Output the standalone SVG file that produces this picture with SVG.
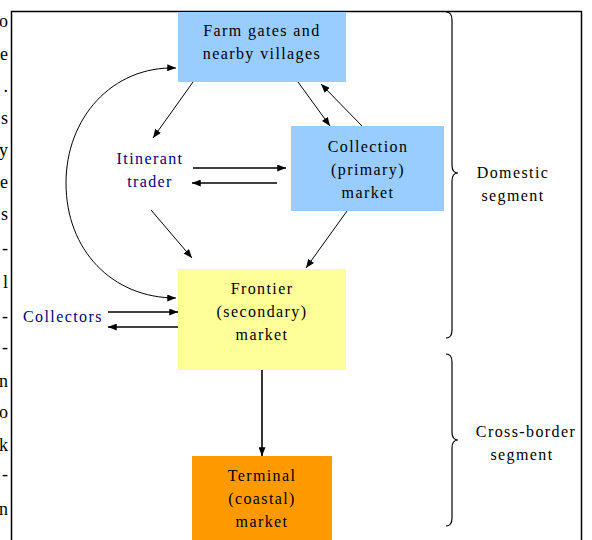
<svg xmlns="http://www.w3.org/2000/svg" width="592" height="540" viewBox="0 0 592 540">
<style>
text{font-size:16px;letter-spacing:1.4px}
.lbl{text-anchor:middle;fill:#000}
.nv{fill:#000080}
.frag{font-size:18px;text-anchor:end;letter-spacing:0}
.ln{stroke:#000;fill:none;stroke-width:1}
.thk{stroke-width:1.6}
.br{stroke:#000;fill:none;stroke-width:1.2}
</style>
<defs>
<marker id="ah" viewBox="0 0 10 8" refX="10" refY="4" markerWidth="9" markerHeight="7" orient="auto-start-reverse" markerUnits="userSpaceOnUse">
<path d="M0,0 L10,4 L0,8 z" fill="#000"/>
</marker>
</defs>
<rect x="0" y="0" width="592" height="540" fill="#fff"/>
<g font-family="'Liberation Serif', 'Times New Roman', serif">
<g id="page-fragments">
<text class="frag" x="8" y="27">o</text>
<text class="frag" x="8" y="60">e</text>
<text class="frag" x="8" y="92">.</text>
<text class="frag" x="8" y="124">s</text>
<text class="frag" x="8" y="156">y</text>
<text class="frag" x="8" y="188">e</text>
<text class="frag" x="8" y="220">s</text>
<text class="frag" x="8" y="254">-</text>
<text class="frag" x="8" y="288">l</text>
<text class="frag" x="8" y="322">-</text>
<text class="frag" x="8" y="353">-</text>
<text class="frag" x="8" y="387">n</text>
<text class="frag" x="8" y="418">o</text>
<text class="frag" x="8" y="451">k</text>
<text class="frag" x="8" y="480">-</text>
<text class="frag" x="8" y="515">n</text>
</g>
<rect id="frame" x="11.5" y="11.5" width="570" height="540" fill="none" stroke="#000" stroke-width="1.5"/>
<g id="connectors">
<line class="ln" x1="193" y1="82" x2="153" y2="138" marker-end="url(#ah)"/>
<line class="ln" x1="298" y1="82" x2="330" y2="126" marker-end="url(#ah)"/>
<line class="ln" x1="362" y1="126" x2="321" y2="84" marker-end="url(#ah)"/>
<line class="ln thk" x1="193" y1="168" x2="286" y2="168" marker-end="url(#ah)"/>
<line class="ln thk" x1="277" y1="183" x2="192" y2="183" marker-end="url(#ah)"/>
<line class="ln" x1="151" y1="210" x2="192" y2="258" marker-end="url(#ah)"/>
<line class="ln" x1="347" y1="211" x2="306" y2="268" marker-end="url(#ah)"/>
<path class="ln" d="M176 68 C112 66 66 118 66 183 C66 250 112 298 176 298" marker-start="url(#ah)" marker-end="url(#ah)"/>
<line class="ln thk" x1="108" y1="312" x2="178" y2="312" marker-end="url(#ah)"/>
<line class="ln thk" x1="178" y1="327" x2="108" y2="327" marker-end="url(#ah)"/>
<line class="ln thk" x1="262" y1="370" x2="262" y2="456" marker-end="url(#ah)"/>
</g>
<g id="farm">
<rect x="178" y="12" width="168" height="70" fill="#99CCFF"/>
<text class="lbl" x="262" y="36">Farm gates and</text>
<text class="lbl" x="262" y="59">nearby villages</text>
</g>
<g id="collection">
<rect x="291" y="126" width="153" height="85" fill="#99CCFF"/>
<text class="lbl" x="368" y="152">Collection</text>
<text class="lbl" x="368" y="175">(primary)</text>
<text class="lbl" x="368" y="198">market</text>
</g>
<g id="frontier">
<rect x="178" y="269" width="168" height="101" fill="#FFFF99"/>
<text class="lbl" x="262" y="294">Frontier</text>
<text class="lbl" x="262" y="317">(secondary)</text>
<text class="lbl" x="262" y="340">market</text>
</g>
<g id="terminal">
<rect x="192" y="456" width="140" height="90" fill="#FF9900"/>
<text class="lbl" x="262" y="481">Terminal</text>
<text class="lbl" x="262" y="504">(coastal)</text>
<text class="lbl" x="262" y="527">market</text>
</g>
<g id="itinerant">
<text class="lbl nv" x="150" y="164">Itinerant</text>
<text class="lbl nv" x="150" y="187">trader</text>
</g>
<g id="collectors">
<text class="nv" x="23" y="322">Collectors</text>
</g>
<g id="domestic">
<path class="br" d="M446 12 Q452 12 452 20 L452 165 Q452 173 458 173 Q452 173 452 181 L452 330 Q452 338 446 338"/>
<text class="lbl" x="513" y="178">Domestic</text>
<text class="lbl" x="513" y="201">segment</text>
</g>
<g id="crossborder">
<path class="br" d="M446 354 Q452 354 452 362 L452 432 Q452 440 458 440 Q452 440 452 448 L452 518 Q452 526 446 526"/>
<text class="lbl" x="526" y="437">Cross-border</text>
<text class="lbl" x="522" y="460">segment</text>
</g>
</g>
</svg>
